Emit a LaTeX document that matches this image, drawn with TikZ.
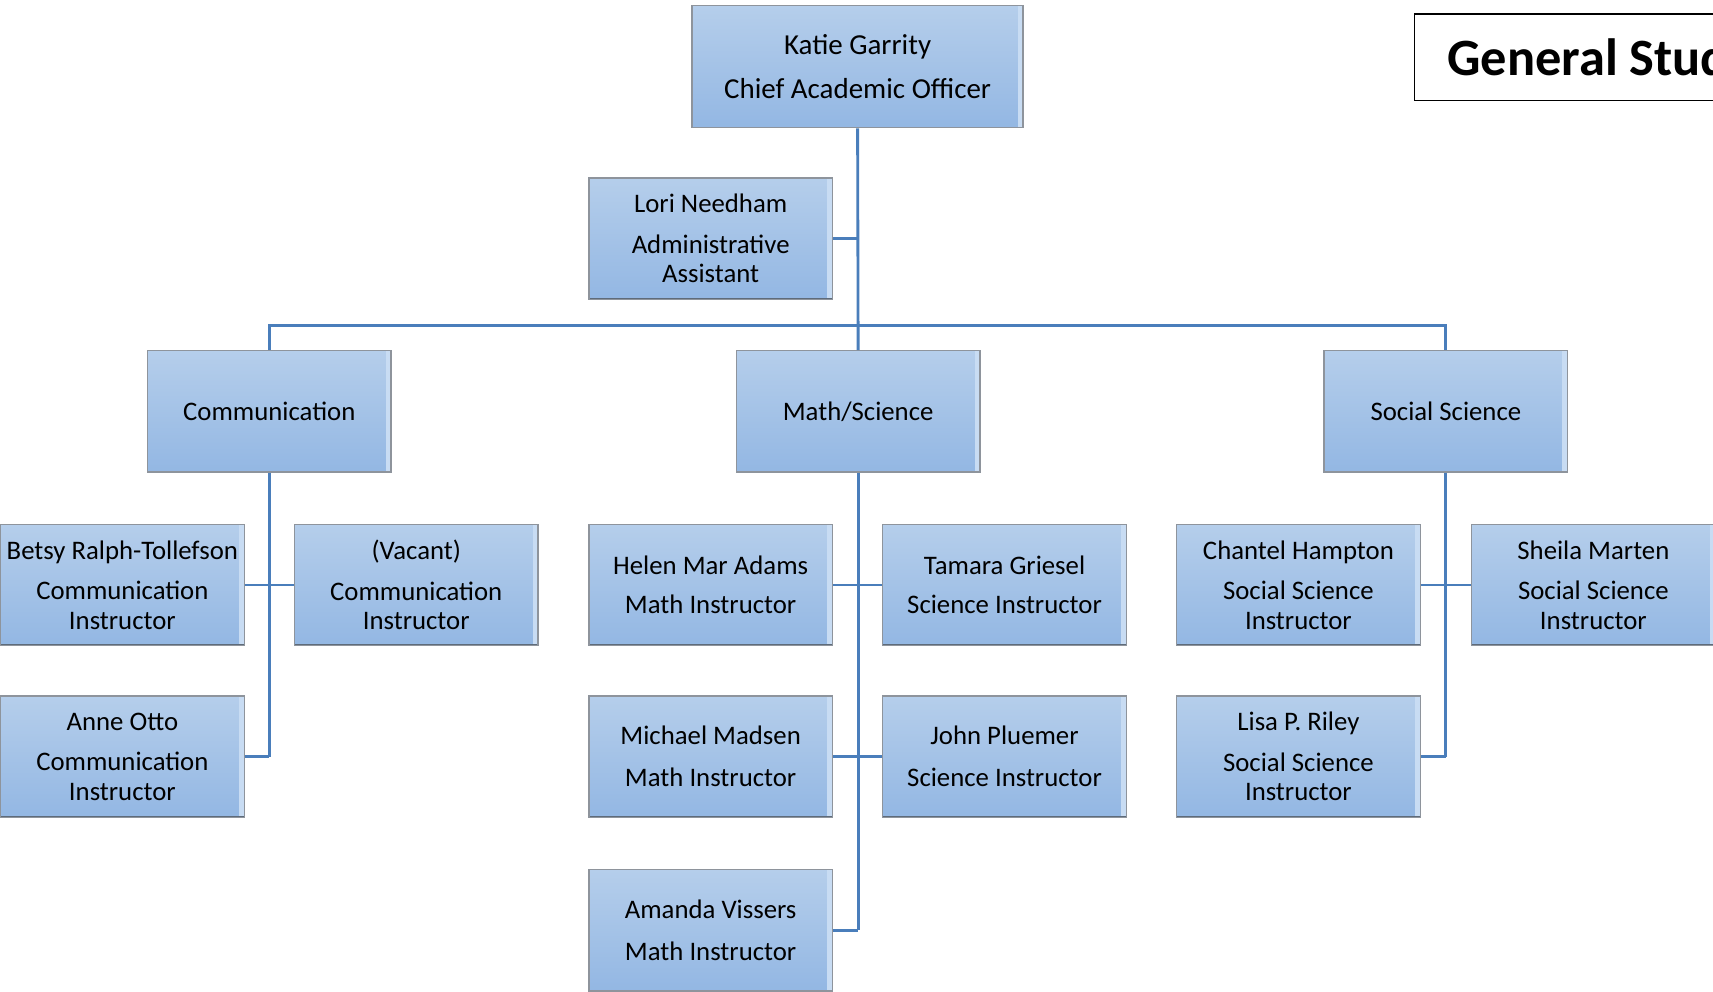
\documentclass[tikz,border=0pt]{standalone}
\usepackage{fontspec}
\setmainfont{Carlito}
\definecolor{cTop}{HTML}{B5CEEB}
\definecolor{cBot}{HTML}{93B7E3}
\definecolor{cBorder}{HTML}{8E949C}
\definecolor{cBottom}{HTML}{5E6B7A}
\definecolor{cEdge}{HTML}{C8DCF3}
\definecolor{cLine}{HTML}{4A7EBB}
\begin{document}
\begin{tikzpicture}[x=1pt,y=-1pt,
  card/.style={rectangle, minimum width=223pt, minimum height=111pt, inner sep=0pt,
    top color=cTop, bottom color=cBot, draw=cBorder, line width=1.2pt,
    align=center, font=\fontsize{24.5}{27}\selectfont,
    path picture={
      \fill[cEdge] ([xshift=-5pt]path picture bounding box.north east) rectangle (path picture bounding box.south east);
      \draw[cBottom, line width=2.4pt] (path picture bounding box.south west) -- (path picture bounding box.south east);
    }},
  conn/.style={draw=cLine, line width=2.6pt},
  titlebox/.style={rectangle, draw=black, line width=1.6pt, minimum height=79pt,
    inner xsep=30pt, inner ysep=0pt, anchor=west, font=\fontsize{48}{52}\selectfont\bfseries}
]
\clip (0,0) rectangle (1568,908);
\useasboundingbox (0,0) rectangle (1568,908);
\fill[white] (0,0) rectangle (1568,908);

\coordinate (busy) at (0,298);

\node[card, minimum width=303pt, minimum height=112pt, font=\fontsize{26.5}{29}\selectfont] (katie) at (785,61) {Katie Garrity\\[11pt]Chief Academic Officer};
\node[card] (lori) at (650.5,218.5) {Lori Needham\\[10pt]Administrative\\Assistant};

\node[card] (comm) at (246.5,376.5) {Communication};
\node[card] (math) at (785.5,376.5) {Math/Science};
\node[card] (soc) at (1323.5,376.5) {Social Science};

\node[card] (betsy) at (112,535.5) {Betsy Ralph-Tollefson\\[10pt]Communication\\Instructor};
\node[card] (vacant) at (381,535.5) {(Vacant)\\[10pt]Communication\\Instructor};
\node[card] (anne) at (112,692.5) {Anne Otto\\[10pt]Communication\\Instructor};

\node[card] (helen) at (650.5,535.5) {Helen Mar Adams\\[9pt]Math Instructor};
\node[card] (tamara) at (919.5,535.5) {Tamara Griesel\\[9pt]Science Instructor};
\node[card] (michael) at (650.5,692.5) {Michael Madsen\\[11pt]Math Instructor};
\node[card] (john) at (919.5,692.5) {John Pluemer\\[11pt]Science Instructor};
\node[card] (amanda) at (650.5,851.5) {Amanda Vissers\\[11pt]Math Instructor};

\node[card] (chantel) at (1188.5,535.5) {Chantel Hampton\\[10pt]Social Science\\Instructor};
\node[card] (sheila) at (1458.5,535.5) {Sheila Marten\\[10pt]Social Science\\Instructor};
\node[card] (lisa) at (1188.5,692.5) {Lisa P. Riley\\[10pt]Social Science\\Instructor};

\node[titlebox] (title) at (1294,52.5) {General Studies};

% connectors
\draw[conn] (katie.south) -- (math.north);
\draw[conn] (lori.east) -- (lori.east -| katie.south);
\draw[conn] (comm.north) -- (comm.north |- busy) -- (soc.north |- busy) -- (soc.north);

\draw[conn] (comm.south) -- (comm.south |- anne.east);
\draw[conn] (betsy.east) -- (vacant.west);
\draw[conn] (anne.east) -- (anne.east -| comm.south);

\draw[conn] (math.south) -- (math.south |- amanda.east);
\draw[conn] (helen.east) -- (tamara.west);
\draw[conn] (michael.east) -- (john.west);
\draw[conn] (amanda.east) -- (amanda.east -| math.south);

\draw[conn] (soc.south) -- (soc.south |- lisa.east);
\draw[conn] (chantel.east) -- (sheila.west);
\draw[conn] (lisa.east) -- (lisa.east -| soc.south);
\end{tikzpicture}
\end{document}
